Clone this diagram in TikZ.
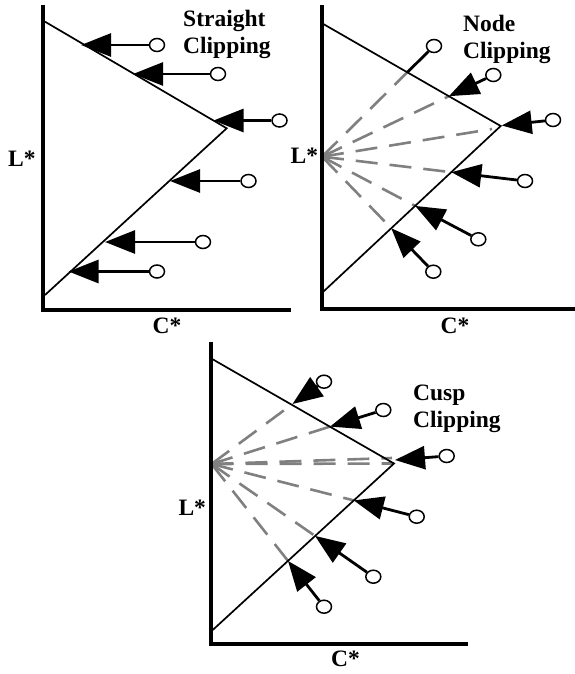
\documentclass[tikz,border=0pt]{standalone}
\usepackage{fontspec}
\setmainfont{Liberation Serif}
\usetikzlibrary{arrows.meta,shapes.geometric}
\begin{document}
\begin{tikzpicture}[x=1pt,y=-1pt,
  axis/.style={line width=4pt,line join=miter},
  edge/.style={line width=1.7pt,line join=miter},
  ray/.style={draw=gray,line width=2.6pt,dash pattern=on 22pt off 12pt},
  shaft/.style={line width=2.8pt},
  headed/.style={shaft,-{Triangle[length=30pt,width=23pt]}},
  ring/.style={ellipse,draw,line width=1.5pt,minimum width=15pt,minimum height=13pt,inner sep=0pt},
  lbl/.style={font=\fontsize{23.5}{27.5}\selectfont\bfseries,inner sep=0pt,align=left},
]
\useasboundingbox (0,0) rectangle (575,674);

% ---------------- Panel 1: Straight clipping ----------------
\draw[axis] (42.5,5) -- (42.5,310) -- (291,310);
\draw[edge] (45,21.7) -- (226.7,128.3) -- (45,295);
\node[lbl,anchor=north west] (t1) at (183,9.5) {Straight\\Clipping};
\node[lbl,anchor=base west] (l1) at (8,166.7) {L*};
\node[lbl,anchor=base] (cc1) at (167,333) {C*};
\node[ring] (a1) at (157,45) {};
\node[ring] (a2) at (218,74) {};
\node[ring] (a3) at (279.5,120.5) {};
\node[ring] (a4) at (248.5,181) {};
\node[ring] (a5) at (203,242) {};
\node[ring] (a6) at (157,271.5) {};
\coordinate (p1) at (81,45);
\coordinate (p2) at (133,74);
\coordinate (p3) at (213.5,120.5);
\coordinate (p4) at (170,181);
\coordinate (p5) at (105,242);
\coordinate (p6) at (68.5,271.5);
\foreach \i in {1,...,6} \draw[headed] (a\i) -- (p\i);

% ---------------- Panel 2: Node clipping ----------------
\coordinate (F2) at (322,156.7);
\coordinate (q1) at (407.3,72.3);
\coordinate (q2) at (448.9,96.2);
\coordinate (q3) at (501.7,125.5);
\coordinate (q3r) at (492,129);
\coordinate (q4) at (451.3,172.2);
\coordinate (q5) at (415.1,205.9);
\coordinate (q6) at (391.2,228.2);
\foreach \i in {1,2,3r,4,5,6} \draw[ray] (F2) -- (q\i);
\draw[axis] (321.5,5) -- (321.5,308.5) -- (575,308.5);
\draw[edge] (323.3,24) -- (500.7,126) -- (323.3,291.7);
\node[lbl,anchor=north west] (t2) at (463,14.5) {Node\\Clipping};
\node[lbl,anchor=base west] (l2) at (290.5,163.5) {L*};
\node[lbl,anchor=base] (cc2) at (455,333) {C*};
\node[ring] (b1) at (434,46) {};
\node[ring] (b2) at (493.3,75) {};
\node[ring] (b3) at (553,120) {};
\node[ring] (b4) at (525,181) {};
\node[ring] (b5) at (478.3,239.3) {};
\node[ring] (b6) at (433.3,271.7) {};
\draw[shaft] (b1) -- (q1);
\foreach \i in {2,...,6} \draw[headed] (b\i) -- (q\i);

% ---------------- Panel 3: Cusp clipping ----------------
\coordinate (F3) at (211.5,464);
\coordinate (r1) at (292.5,404);
\coordinate (r2) at (330,426.6);
\coordinate (r3) at (395,460);
\coordinate (r3a) at (392,458);
\coordinate (r3b) at (394,463.5);
\coordinate (r4) at (353.7,500.4);
\coordinate (r5) at (315,535.9);
\coordinate (r6) at (288,560.9);
\foreach \i in {1,2,3a,3b,4,5,6} \draw[ray] (F3) -- (r\i);
\draw[axis] (210.7,341.7) -- (210.7,644) -- (468.3,644);
\draw[edge] (212.7,359.3) -- (394,463.5) -- (212.7,630);
\node[lbl,anchor=north west] (t3) at (413,384.5) {Cusp\\Clipping};
\node[lbl,anchor=base west] (l3) at (178.3,515) {L*};
\node[lbl,anchor=base] (cc3) at (345.5,666) {C*};
\node[ring] (e1) at (324,381.7) {};
\node[ring] (e2) at (383.3,410) {};
\node[ring] (e3) at (446.7,456) {};
\node[ring] (e4) at (416.7,516.7) {};
\node[ring] (e5) at (373.3,576.7) {};
\node[ring] (e6) at (324,606.7) {};
\foreach \i in {1,...,6} \draw[headed] (e\i) -- (r\i);
\end{tikzpicture}
\end{document}
